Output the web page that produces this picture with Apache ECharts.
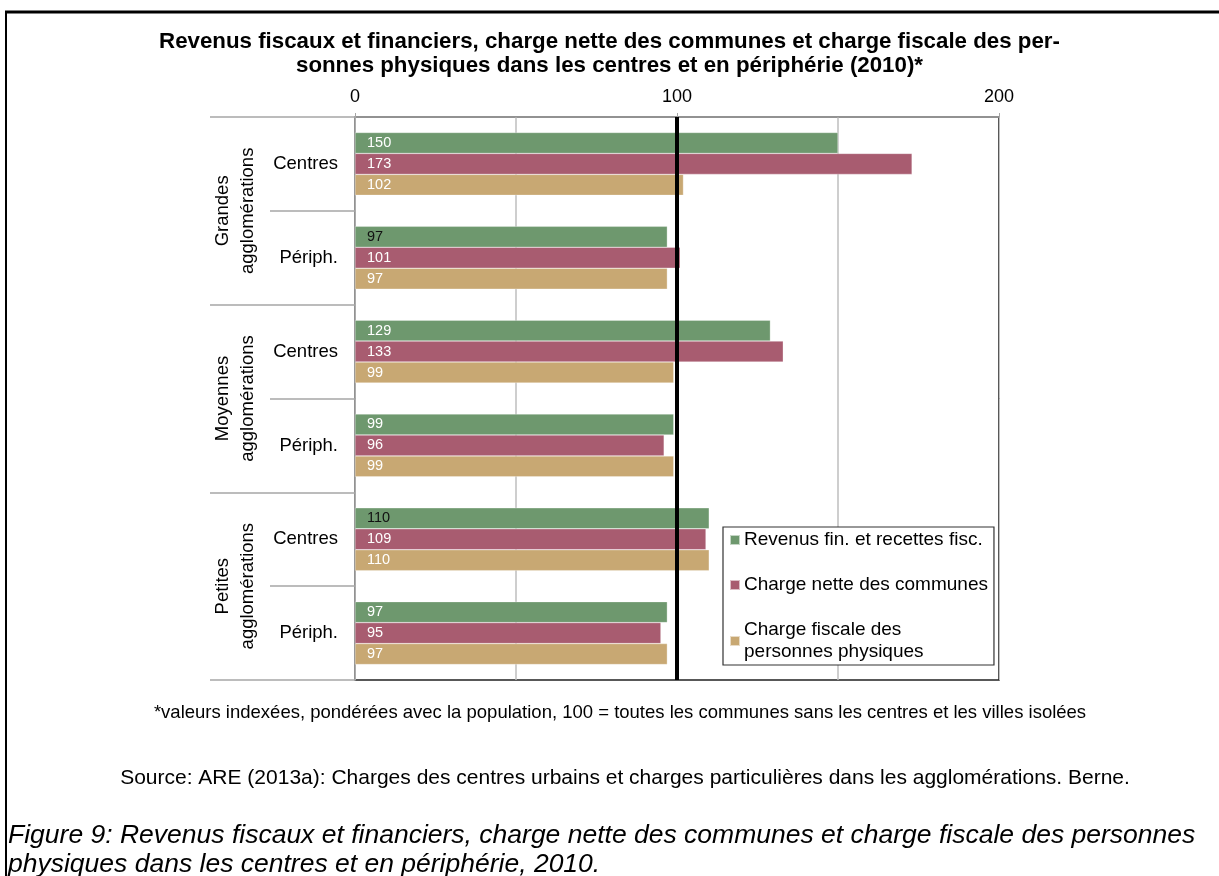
<!DOCTYPE html>
<html>
<head>
<meta charset="utf-8">
<script src="https://cdn.jsdelivr.net/npm/echarts@6/dist/echarts.min.js"></script>
<style>
html, body { margin: 0; padding: 0; background: #fff; }
#chart { width: 1219px; height: 876px; }
</style>
</head>
<body>
<div id="chart"></div>
<script>
// donnees
var groups = ['Grandes\nagglomérations', 'Moyennes\nagglomérations', 'Petites\nagglomérations'];
var rows = ['Centres', 'Périph.', 'Centres', 'Périph.', 'Centres', 'Périph.'];
var seriesNames = ['Revenus fin. et recettes fisc.', 'Charge nette des communes', 'Charge fiscale des personnes physiques'];
var revenus = [150, 97, 129, 99, 110, 97];
var chargeNette = [173, 101, 133, 96, 109, 95];
var chargeFiscale = [102, 97, 99, 99, 110, 97];
var refValue = 100;

var colors = ['#6e986e', '#a85c70', '#c8a873'];
// labels en noir (serie, ligne)
var darkLabels = [[0, 1], [0, 4]];

var font = 'Liberation Sans, Arial, sans-serif';

function isDark(s, i) {
    for (var k = 0; k < darkLabels.length; k++) {
        if (darkLabels[k][0] === s && darkLabels[k][1] === i) return true;
    }
    return false;
}

function makeData(values, s) {
    var out = [];
    for (var i = 0; i < values.length; i++) {
        var item = { value: values[i] };
        if (isDark(s, i)) item.label = { color: '#111' };
        out.push(item);
    }
    return out;
}

function makeSeries(name, values, s) {
    var obj = {
        name: name,
        type: 'bar',
        yAxisIndex: 0,
        barGap: '0%',
        barCategoryGap: '33%',
        itemStyle: { color: colors[s], borderColor: 'rgba(255,255,255,0.6)', borderWidth: 0.5 },
        label: {
            show: true,
            position: 'insideLeft',
            distance: 12,
            color: '#fff',
            fontFamily: font,
            fontSize: 14.5
        },
        emphasis: { disabled: true },
        data: makeData(values, s)
    };
    if (s === 2) {
        obj.markLine = {
            silent: true,
            symbol: 'none',
            label: { show: false },
            lineStyle: { color: '#000', width: 4, type: 'solid' },
            data: [{ xAxis: refValue }]
        };
    }
    return obj;
}

var dom = document.getElementById('chart');
var myChart = echarts.init(dom, null, { renderer: 'canvas' });

var option = {
    animation: false,
    color: colors,
    title: [
        {
            text: 'Revenus fiscaux et financiers, charge nette des communes et charge fiscale des per-\nsonnes physiques dans les centres et en périphérie (2010)*',
            left: 'center',
            top: 25,
            textStyle: { fontFamily: font, fontSize: 22.3, fontWeight: 'bold', color: '#000', lineHeight: 24 }
        },
        {
            text: '*valeurs indexées, pondérées avec la population, 100 = toutes les communes sans les centres et les villes isolées',
            left: 615,
            textAlign: 'center',
            top: 698,
            textStyle: { fontFamily: font, fontSize: 18.5, fontWeight: 'normal', color: '#000' }
        },
        {
            text: 'Source: ARE (2013a): Charges des centres urbains et charges particulières dans les agglomérations. Berne.',
            left: 620,
            textAlign: 'center',
            top: 763,
            textStyle: { fontFamily: font, fontSize: 21, fontWeight: 'normal', color: '#000' }
        },
        {
            text: 'Figure 9: Revenus fiscaux et financiers, charge nette des communes et charge fiscale des personnes\nphysiques dans les centres et en périphérie, 2010.',
            left: 3,
            top: 816,
            textStyle: { fontFamily: font, fontSize: 26.5, fontStyle: 'italic', fontWeight: 'normal', color: '#000', lineHeight: 29 }
        }
    ],
    legend: {
        orient: 'vertical',
        left: 723,
        top: 527,
        padding: [2, 6, 2, 6],
        itemGap: 23,
        itemWidth: 10,
        itemHeight: 10,
        icon: 'rect',
        borderColor: '#333',
        borderWidth: 1.2,
        backgroundColor: '#fff',
        data: seriesNames,
        formatter: function (name) {
            if (name === seriesNames[2]) return 'Charge fiscale des\npersonnes physiques';
            return name;
        },
        textStyle: { fontFamily: font, fontSize: 19, color: '#000', lineHeight: 22, padding: [0, 0, 0, -1] }
    },
    grid: {
        left: 355,
        right: 220,
        top: 117,
        bottom: 196,
        show: true,
        borderColor: '#222',
        borderWidth: 1.5,
        outerBoundsMode: 'none'
    },
    xAxis: {
        type: 'value',
        position: 'top',
        min: 0,
        max: 200,
        interval: 100,
        axisLine: { show: true, lineStyle: { color: '#a6a6a6', width: 1.5 } },
        axisTick: { show: true, length: 4, lineStyle: { color: '#a6a6a6' } },
        axisLabel: { fontFamily: font, fontSize: 18, color: '#000', margin: 11 },
        splitLine: { show: true, lineStyle: { color: '#bfbfbf', width: 1 } },
        minorTick: { show: false, splitNumber: 2 },
        minorSplitLine: { show: true, lineStyle: { color: '#bfbfbf', width: 1.5 } }
    },
    yAxis: [
        {
            type: 'category',
            inverse: true,
            data: rows,
            axisLine: { show: true, lineStyle: { color: '#a6a6a6', width: 1.5 } },
            axisTick: { show: true, length: 85, lineStyle: { color: '#a6a6a6', width: 1.5 } },
            axisLabel: { fontFamily: font, fontSize: 18.5, color: '#000', margin: 17 },
            splitLine: { show: false }
        },
        {
            type: 'category',
            inverse: true,
            position: 'left',
            offset: 85,
            data: groups,
            axisLine: { show: false },
            axisTick: { show: true, length: 60, lineStyle: { color: '#a6a6a6', width: 1.5 } },
            axisLabel: { fontFamily: font, fontSize: 18.5, color: '#000', rotate: 90, margin: 10, lineHeight: 25 },
            splitLine: { show: false }
        }
    ],
    graphic: [
        { type: 'line', shape: { x1: 5, y1: 12, x2: 1219, y2: 12 }, style: { stroke: '#000', lineWidth: 3 } },
        { type: 'line', shape: { x1: 6, y1: 12, x2: 6, y2: 876 }, style: { stroke: '#000', lineWidth: 2 } }
    ],
    series: [
        makeSeries(seriesNames[0], revenus, 0),
        makeSeries(seriesNames[1], chargeNette, 1),
        makeSeries(seriesNames[2], chargeFiscale, 2),
        // serie vide pour porter le 2e axe
        { type: 'bar', yAxisIndex: 1, data: [], silent: true }
    ]
};

myChart.setOption(option);
window.addEventListener('resize', myChart.resize);
</script>
</body>
</html>
